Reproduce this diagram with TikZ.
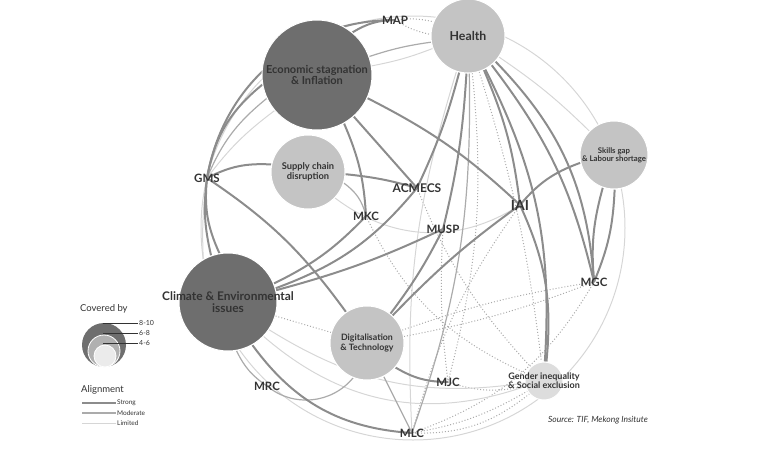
\documentclass[tikz,border=0pt]{standalone}
\usepackage{fontspec}
\setmainfont{Lato}
\usetikzlibrary{backgrounds}
\definecolor{darkc}{HTML}{6E6E6E}
\definecolor{lightc}{HTML}{C4C4C4}
\definecolor{palec}{HTML}{DDDDDD}
\definecolor{txt}{HTML}{333333}
\definecolor{strongc}{HTML}{8C8C8C}
\definecolor{modc}{HTML}{ABABAB}
\definecolor{limc}{HTML}{D6D6D6}
\tikzset{
  issue/.style={circle, draw=white, line width=1pt, inner sep=0pt},
  itext/.style={align=center, text=txt, inner sep=0pt},
  bloc/.style={font=\bfseries\fontsize{11.5}{12}\selectfont, text=txt, inner sep=1pt},
  strong/.style={draw=strongc, line width=2pt},
  moderate/.style={draw=modc, line width=1.2pt},
  limited/.style={draw=limc, line width=1pt},
  dotlink/.style={draw=modc, line width=1pt, dotted},
  keytext/.style={anchor=west, text=txt, inner sep=1pt},
}
\begin{document}
\begin{tikzpicture}[x=1pt,y=1pt]
\useasboundingbox (0,0) rectangle (761,-448);
% issues
\node[issue, fill=darkc, minimum size=110pt, label={[itext, font=\bfseries\fontsize{11}{10.5}\selectfont]center:{Economic stagnation\\\& Inflation}}] (econ) at (317,-75) {};
\node[issue, fill=lightc, minimum size=74pt, label={[itext, font=\bfseries\fontsize{12.3}{12}\selectfont]center:{Health}}] (health) at (468,-36) {};
\node[issue, fill=lightc, minimum size=74pt, label={[itext, font=\bfseries\fontsize{9.3}{10}\selectfont]center:{Supply chain\\disruption}}] (supply) at (308,-172) {};
\node[issue, fill=lightc, minimum size=68pt, label={[itext, font=\bfseries\fontsize{7.8}{8.2}\selectfont]center:{Skills gap\\\& Labour shortage}}] (skills) at (614,-155) {};
\node[issue, fill=darkc, minimum size=98pt, label={[itext, font=\bfseries\fontsize{11.9}{12}\selectfont]center:{Climate \& Environmental\\issues}}] (climate) at (228,-302) {};
\node[issue, fill=lightc, minimum size=74pt, label={[itext, font=\bfseries\fontsize{8.8}{9.5}\selectfont]center:{Digitalisation\\\& Technology}}] (digital) at (367,-343) {};
\node[issue, fill=palec, minimum size=38pt, label={[itext, font=\bfseries\fontsize{9}{9.2}\selectfont]center:{Gender inequality\\\& Social exclusion}}] (gender) at (544,-381) {};
% mechanisms
\node[bloc] (map) at (395,-20) {MAP};
\node[bloc] (gms) at (207,-178) {GMS};
\node[bloc, font=\bfseries\fontsize{12}{12}\selectfont] (acmecs) at (417,-188) {ACMECS};
\node[bloc] (mkc) at (366,-216) {MKC};
\node[bloc] (musp) at (443,-229) {MUSP};
\node[bloc, font=\bfseries\fontsize{14}{14}\selectfont] (iai) at (520,-205) {IAI};
\node[bloc] (mgc) at (594,-282) {MGC};
\node[bloc] (mrc) at (267,-386) {MRC};
\node[bloc] (mjc) at (448,-382) {MJC};
\node[bloc] (mlc) at (412,-433) {MLC};
\coordinate (hub) at (413,-228);
\begin{pgfonlayer}{background}
\draw[limited] (hub) circle[radius=212pt];
% dotted links
\draw[dotlink] (map.center) to[bend left=10] (health);
\draw[dotlink] (map.center) to[bend right=10] (health);
\draw[dotlink] (climate) to (digital);
\draw[dotlink] (digital) to[bend left=5] (mgc.center);
\draw[dotlink] (digital) to[bend right=5] (mgc.center);
\draw[dotlink] (acmecs.center) to[bend right=10] (gender);
\draw[dotlink] (mkc.center) to[bend right=20] (gender);
\draw[dotlink] (musp.center) to[bend right=5] (mjc.center);
\draw[dotlink] (health) to[bend left=10] (mjc.center);
\draw[dotlink] (iai.center) to[bend right=10] (mlc.center);
\draw[dotlink] (mlc.center) to[bend right=10] (gender);
\draw[dotlink] (mlc.center) to[bend right=20] (gender);
\draw[dotlink] (mjc.center) to[bend right=15] (gender);
\draw[dotlink] (mgc.center) to[bend left=20] (mlc.center);
\draw[dotlink] (health) to[bend left=5] (gender);
% limited links
\draw[limited] (econ) to[bend right=5] (health);
\draw[limited] (gms.center) to[bend left=8] (econ.220);
\draw[limited] (gms.center) to[bend right=5] (climate.120);
\draw[limited] (supply) to[bend right=35] (iai.center);
\draw[limited] (health) to[bend left=5] (skills);
\draw[limited] (health) to[bend right=10] (mlc.center);
\draw[limited] (climate) to[bend right=20] (gender);
\draw[limited] (climate) to[bend right=30] (gender);
% moderate links
\draw[moderate] (econ) to[bend left=5] (health);
\draw[moderate] (gms.center) to[bend left=14] (econ.205);
\draw[moderate] (supply) to[bend left=20] (mkc.center);
\draw[moderate] (digital) to (mlc.center);
\draw[moderate] (climate) to[bend right=15] (mrc.center);
\draw[moderate] (mrc.center) to[bend right=45] (digital);
\draw[moderate] (mlc.center) to[bend right=10] (health);
% strong links
\draw[strong] (gms.center) to[bend left=40] (map.center);
\draw[strong] (econ) to[bend left=15] (map.center);
\draw[strong] (gms.center) to[bend left=20] (econ.190);
\draw[strong] (gms.center) to[bend left=15] (supply);
\draw[strong] (gms.center) to[bend left=10] (digital);
\draw[strong] (gms.center) to[bend right=15] (climate.100);
\draw[strong] (gms.center) to[bend right=10] (climate.110);
\draw[strong] (econ) to (acmecs.center);
\draw[strong] (econ) to[bend left=10] (mkc.center);
\draw[strong] (econ) to[bend left=8] (iai.center);
\draw[strong] (iai.center) to[bend left=15] (gender);
\draw[strong] (supply) to[bend left=5] (acmecs.center);
\draw[strong] (health) to[bend left=5] (acmecs.center);
\draw[strong] (acmecs.center) to[bend left=15] (climate);
\draw[strong] (mkc.center) to[bend left=10] (climate);
\draw[strong] (musp.center) to[bend left=5] (climate);
\draw[strong] (health) to[bend left=5] (musp.center);
\draw[strong] (musp.center) to[bend left=5] (digital);
\draw[strong] (iai.center) to[bend right=5] (digital);
\draw[strong] (iai.center) to[bend left=15] (skills);
\draw[strong] (health) to[bend left=8] (iai.center);
\draw[strong] (health) to[bend left=20] (mgc.center);
\draw[strong] (health) to[bend left=12] (mgc.center);
\draw[strong] (health) to[bend left=15] (gender);
\draw[strong] (skills) to[bend right=10] (mgc.center);
\draw[strong] (skills) to[bend left=10] (mgc.center);
\draw[strong] (digital) to[bend right=15] (mjc.center);
\draw[strong] (climate) to[bend right=25] (mlc.center);
\end{pgfonlayer}
% legend
\node[keytext, font=\fontsize{9.5}{11}\selectfont] (covered) at (79,-309) {Covered by};
\node[circle, fill=darkc, minimum size=44pt, inner sep=0pt] (bigkey) at (104,-345) {};
\node[circle, fill=lightc!90!black, draw=white, line width=.8pt, minimum size=32pt, inner sep=0pt] (midkey) at (104,-351) {};
\node[circle, fill=palec!60, draw=white, line width=.8pt, minimum size=22pt, inner sep=0pt] (smallkey) at (105,-356) {};
\node[keytext, font=\fontsize{7}{8}\selectfont] (k810) at (138,-323) {8-10};
\node[keytext, font=\fontsize{7}{8}\selectfont] (k68) at (138,-333) {6-8};
\node[keytext, font=\fontsize{7}{8}\selectfont] (k46) at (138,-343) {4-6};
\coordinate (p810) at (103,-323);
\coordinate (p68) at (103,-333);
\coordinate (p46) at (103,-343);
\draw[black!80, line width=.5pt] (p810) -- (k810.west);
\draw[black!80, line width=.5pt] (p68) -- (k68.west);
\draw[black!80, line width=.5pt] (p46) -- (k46.west);
\node[keytext, font=\fontsize{9.5}{11}\selectfont] (alignkey) at (80,-390) {Alignment};
\node[keytext, font=\fontsize{6.5}{7.5}\selectfont] (strongk) at (116,-403) {Strong};
\node[keytext, font=\fontsize{6.5}{7.5}\selectfont] (modk) at (116,-413) {Moderate};
\node[keytext, font=\fontsize{6.5}{7.5}\selectfont] (limk) at (116,-423) {Limited};
\coordinate (s0) at (82,-403);
\coordinate (m0) at (82,-413);
\coordinate (l0) at (82,-423);
\draw[strong] (s0) -- (strongk.west);
\draw[moderate] (m0) -- (modk.west);
\draw[limited] (l0) -- (limk.west);
\node[text=txt, font=\itshape\fontsize{8.5}{10}\selectfont] (src) at (598,-420) {Source: TIF, Mekong Insitute};
\end{tikzpicture}
\end{document}
